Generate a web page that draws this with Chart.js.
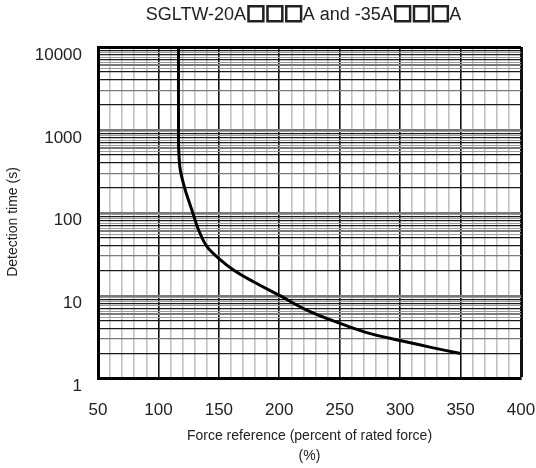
<!DOCTYPE html>
<html><head><meta charset="utf-8">
<script src="https://cdn.jsdelivr.net/npm/chart.js@4"></script>
<style>html,body{margin:0;padding:0;background:#fff}</style>
</head><body>
<canvas id="c" width="536" height="468" style="width:536px;height:468px;display:block"></canvas>
<script>
const chartTitle = 'SGLTW-20A\u25A1\u25A1\u25A1A and -35A\u25A1\u25A1\u25A1A';
const xTitle = ['Force reference (percent of rated force)', '(%)'];
const yTitle = 'Detection time (s)';

// curve
const forceValues = [116.6, 116.6, 116.8, 118.1, 122.2, 127.7, 133.2, 140.2, 149.8, 162.1, 178.6, 199.3, 222.7, 249.7, 272.3, 299.8, 324.6, 350];
const timeValues  = [10000, 1000, 569, 327, 188, 108, 62, 38.9, 28.2, 20.4, 14.7, 10.2, 6.7, 4.65, 3.58, 2.87, 2.39, 2.0];

// axes
const xGridValues = [50,60,70,80,90,100,110,120,130,140,150,160,170,180,190,200,210,220,230,240,250,260,270,280,290,300,310,320,330,340,350,360,370,380,390,400];
const xTickLabels = [50,100,150,200,250,300,350,400];
const yTickLabels = [1,10,100,1000,10000];
const yGridMantissas = [1,2,3,4,5,5.5,6,6.5,7,7.5,8,8.5,9,9.5];
const yDecades = [1,10,100,1000];

const yGridValues = [];
yDecades.forEach(d => yGridMantissas.forEach(m => yGridValues.push(Math.round(m*d*10)/10)));
yGridValues.push(10000);

const FONT = '"Liberation Sans", Arial, Helvetica, sans-serif';
const BOX = '\u25A1';

const textPlugin = {
  id: 'texts',
  afterDraw(chart) {
    const ctx = chart.ctx, a = chart.chartArea;
    ctx.save();
    ctx.fillStyle = '#222';
    ctx.strokeStyle = '#222';
    ctx.textBaseline = 'middle';
    // title drawn in pieces so that the squares get a heavier glyph
    const parts = chartTitle.split(/(\u25A1)/).filter(p => p.length);
    const fontText = '18px ' + FONT, fontBox = 'bold 21px "DejaVu Sans"';
    let total = 0;
    const widths = parts.map(p => { ctx.font = p === BOX ? fontBox : fontText; const w = ctx.measureText(p).width - (p === BOX ? 1 : 0); total += w; return w; });
    let x = (a.left + a.right) / 2 - 6 - total / 2;
    ctx.textAlign = 'left';
    parts.forEach((p, i) => {
      if (p === BOX) {
        ctx.font = fontBox;
        ctx.lineWidth = 1.3;
        ctx.fillText(p, x, 14);
        ctx.strokeText(p, x, 14);
      } else {
        ctx.font = fontText;
        ctx.fillText(p, x, 15);
      }
      x += widths[i];
    });
    ctx.textAlign = 'center';
    ctx.translate(13, 222);
    ctx.rotate(-Math.PI / 2);
    ctx.font = '14px ' + FONT;
    ctx.fillText(yTitle, 0, 0);
    ctx.restore();
  }
};

function yMant(v) {
  const p = Math.pow(10, Math.floor(Math.log10(v) + 1e-9));
  return Math.round(v / p * 10) / 10;
}

new Chart(document.getElementById('c'), {
  type: 'line',
  data: {
    datasets: [{
      data: forceValues.map((x, i) => ({ x: x, y: timeValues[i] })),
      borderColor: '#000',
      borderWidth: 3,
      pointRadius: 0,
      tension: 0.35,
      fill: false
    }]
  },
  plugins: [textPlugin],
  options: {
    responsive: false,
    animation: false,
    layout: { padding: { top: 47, right: 15, left: 0, bottom: 0 } },
    plugins: { legend: { display: false }, tooltip: { enabled: false }, title: { display: false } },
    scales: {
      x: {
        type: 'linear', min: 50, max: 400,
        afterFit(s) { s.height = 89.5; s.paddingLeft = 0; s.paddingRight = 0; },
        afterBuildTicks(s) { s.ticks = xGridValues.map(v => ({ value: v })); },
        ticks: {
          autoSkip: false, maxRotation: 0, minRotation: 0, padding: 22,
          font: { size: 17, family: FONT }, color: '#222',
          callback: v => xTickLabels.includes(v) ? String(v) : ''
        },
        grid: {
          drawTicks: false,
          color: c => (c.tick && c.tick.value % 50 === 0) ? '#111' : '#c2c2c2',
          lineWidth: c => (c.tick && c.tick.value === 400) ? 3 : 1.6
        },
        border: { width: 3, color: '#000' },
        title: { display: true, text: xTitle, color: '#222', font: { size: 14, family: FONT, lineHeight: 1.48 }, padding: { top: 0, bottom: 1 } }
      },
      y: {
        type: 'logarithmic', min: 1, max: 10000,
        afterFit(s) { s.width = 98; },
        afterBuildTicks(s) { s.ticks = yGridValues.map(v => ({ value: v })); },
        ticks: {
          autoSkip: false, padding: 16, labelOffset: 8,
          font: { size: 17, family: FONT }, color: '#222',
          callback: v => yTickLabels.includes(v) ? String(v) : ''
        },
        grid: {
          drawTicks: false,
          color: c => {
            if (!c.tick) return '#222';
            const v = c.tick.value;
            if (v === 10000) return '#000';
            const m = yMant(v);
            if (m === 1 || m === 3 || m === 6) return '#7a7a7a';
            if (m % 1 !== 0) return '#9a9a9a';
            return '#1a1a1a';
          },
          lineWidth: c => {
            if (!c.tick) return 1.4;
            const v = c.tick.value;
            if (v === 10000) return 3;
            const m = yMant(v);
            if (m === 1 || m === 6) return 2;
            if (m % 1 !== 0) return 1;
            return 1.3;
          }
        },
        border: { width: 3, color: '#000' },
        title: { display: false }
      }
    }
  }
});
</script>
</body></html>
